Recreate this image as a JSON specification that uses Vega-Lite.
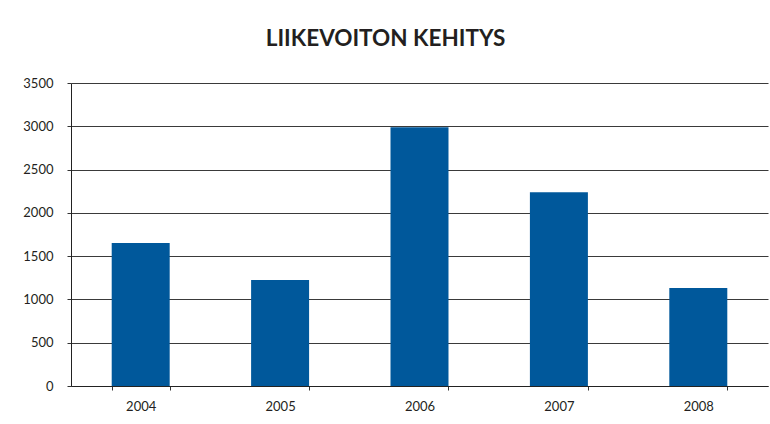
{
  "$schema": "https://vega.github.io/schema/vega-lite/v6.json",
  "width": 697,
  "height": 303,
  "autosize": "none",
  "padding": {"left": 71, "top": 83, "right": 2, "bottom": 38},
  "background": "white",
  "title": {
    "text": "LIIKEVOITON KEHITYS",
    "font": "Lato",
    "fontSize": 22.5,
    "fontWeight": "bold",
    "color": "#231f20",
    "anchor": "middle",
    "frame": "group",
    "dx": -34,
    "baseline": "alphabetic",
    "offset": 9
  },
  "data": {
    "values": [
      {"year": "2004", "value": 1652},
      {"year": "2005", "value": 1223},
      {"year": "2006", "value": 2990},
      {"year": "2007", "value": 2239},
      {"year": "2008", "value": 1131}
    ]
  },
  "mark": {"type": "bar", "color": "#00589b"},
  "encoding": {
    "x": {
      "field": "year",
      "type": "nominal",
      "scale": {"paddingInner": 0.584, "paddingOuter": 0.292},
      "axis": {
        "title": null,
        "labelAngle": 0,
        "labelFont": "Lato",
        "labelFontSize": 13,
        "labelColor": "#231f20",
        "labelPadding": 10,
        "tickBand": "extent",
        "tickSize": 4,
        "tickColor": "#333333",
        "domainColor": "#222222",
        "grid": false
      }
    },
    "y": {
      "field": "value",
      "type": "quantitative",
      "scale": {"domain": [0, 3500], "nice": false},
      "axis": {
        "title": null,
        "format": "d",
        "values": [0, 500, 1000, 1500, 2000, 2500, 3000, 3500],
        "labelFont": "Lato",
        "labelFontSize": 13,
        "labelColor": "#231f20",
        "labelPadding": 14,
        "tickSize": 4,
        "tickColor": "#333333",
        "domainColor": "#222222",
        "grid": true,
        "gridColor": "#3a3a3a",
        "gridWidth": 1,
        "gridOpacity": 1
      }
    }
  },
  "config": {
    "view": {"stroke": null},
    "axis": {"domainWidth": 1, "tickWidth": 1}
  }
}
